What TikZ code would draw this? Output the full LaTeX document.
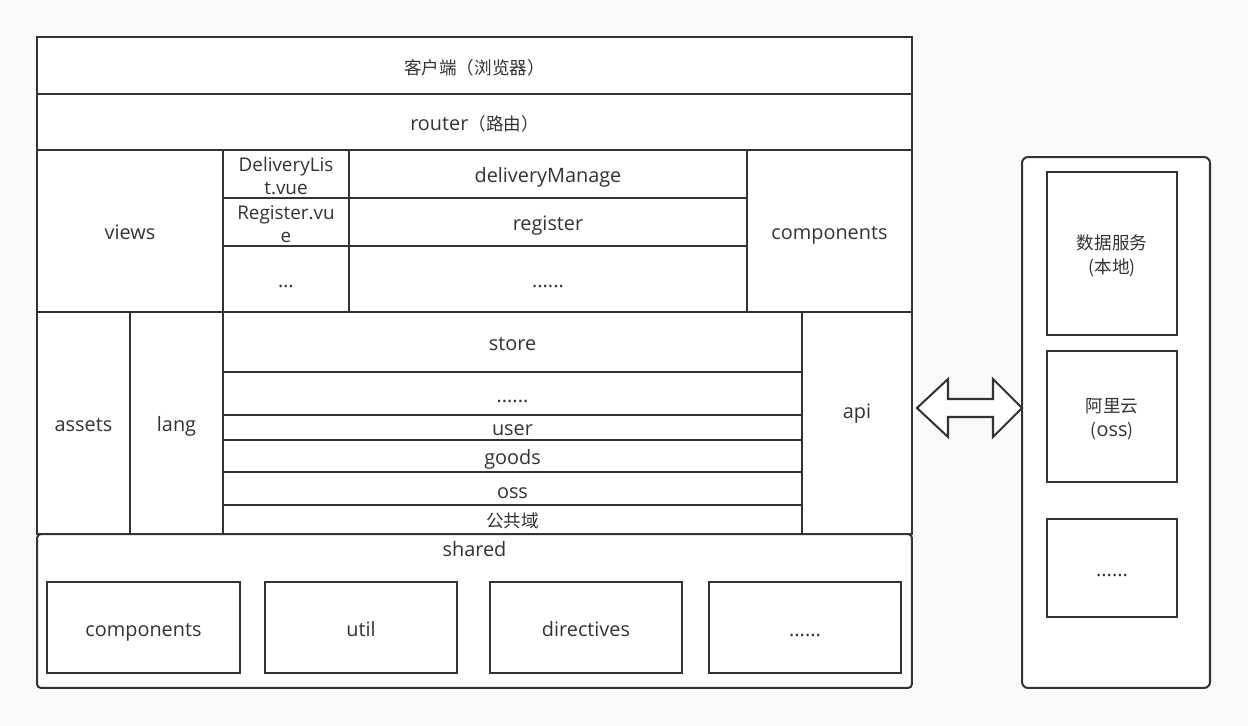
\documentclass[tikz,border=0pt]{standalone}
\usepackage{fontspec}
\setmainfont{Open Sans}[Scale=1.13]
\newfontfamily\cjk{Noto Sans CJK SC}
\usepackage{tikz}
\usetikzlibrary{calc}
\definecolor{PageGray}{HTML}{F9F9F9}
\definecolor{LineDark}{HTML}{333333}

\begin{document}
\begin{tikzpicture}[
    x=0.02cm, y=-0.02cm,
    font=\fontsize{10}{13}\selectfont,
    cell/.style={draw=LineDark, fill=white, line width=1.15pt, inner sep=0pt, text=LineDark, align=center, text height=10pt, text depth=0pt},
    box/.style={draw=LineDark, fill=white, line width=1.15pt, inner sep=0pt},
    panel/.style={draw=LineDark, fill=white, line width=1.15pt, rounded corners=#1, inner sep=0pt},
    lbl/.style={text=LineDark, inner sep=0pt, align=center}
]

  % Fundo
  \fill[PageGray] (0,0) rectangle (1248,726);
  \useasboundingbox (0,0) rectangle (1248,726);

  % =========================================================
  % Cliente / router
  % =========================================================
  \node[cell, minimum width=17.5cm, minimum height=1.14cm] (client) at (474.5,65.5) {{\cjk 客户端（浏览器）}};
  \node[cell, minimum width=17.5cm, minimum height=1.12cm] (router) at (474.5,122) {router{\cjk （路由）}};

  % =========================================================
  % views
  % =========================================================
  \node[cell, minimum width=3.72cm, minimum height=3.24cm] (views) at (130,231) {views};
  \node[box, minimum width=2.52cm, minimum height=0.96cm] (dlist) at (286,174) {};
  \node[lbl, font=\fontsize{9.5}{13}\selectfont, yshift=-1.2pt] (dlisttxt) at (dlist) {DeliveryLis\\t.vue};
  \node[box, minimum width=2.52cm, minimum height=0.96cm] (regvue) at (286,222) {};
  \node[lbl, font=\fontsize{9.5}{13}\selectfont, yshift=-1.2pt] (regvuetxt) at (regvue) {Register.vu\\e};
  \node[cell, minimum width=2.52cm, minimum height=1.32cm] (vdots) at (286,279) {\dots};
  \node[cell, minimum width=7.96cm, minimum height=0.96cm] (dmanage) at (548,174) {deliveryManage};
  \node[cell, minimum width=7.96cm, minimum height=0.96cm] (regdir) at (548,222) {register};
  \node[cell, minimum width=7.96cm, minimum height=1.32cm] (vmore) at (548,279) {......};
  \node[cell, minimum width=3.3cm, minimum height=3.24cm] (comps) at (829.5,231) {components};

  % =========================================================
  % assets / lang / store / api
  % =========================================================
  \node[cell, minimum width=1.86cm, minimum height=4.44cm] (assets) at (83.5,423) {assets};
  \node[cell, minimum width=1.86cm, minimum height=4.44cm] (lang) at (176.5,423) {lang};
  \node[cell, minimum width=11.58cm, minimum height=1.2cm] (store) at (512.5,342) {store};
  \node[cell, minimum width=11.58cm, minimum height=0.86cm] (smore) at (512.5,393.5) {......};
  \node[cell, minimum width=11.58cm, minimum height=0.5cm, text height=9pt] (user) at (512.5,427.5) {user};
  \node[cell, minimum width=11.58cm, minimum height=0.64cm] (goods) at (512.5,456) {goods};
  \node[cell, minimum width=11.58cm, minimum height=0.66cm, text height=11.4pt] (oss) at (512.5,488.5) {oss};
  \node[cell, minimum width=11.58cm, minimum height=0.58cm, text height=9pt] (pub) at (512.5,519.5) {{\cjk 公共域}};
  \node[cell, minimum width=2.2cm, minimum height=4.44cm, text height=0pt, text depth=5pt] (api) at (857,423) {api};

  % =========================================================
  % shared
  % =========================================================
  \node[panel=2.2pt, minimum width=17.5cm, minimum height=3.08cm] (shared) at (474.5,611) {};
  \node[lbl, text height=8.8pt, text depth=0pt] (sharedlbl) at (474.5,549) {shared};
  \node[cell, minimum width=3.86cm, minimum height=1.82cm] (scomps) at (143.5,627.5) {components};
  \node[cell, minimum width=3.84cm, minimum height=1.82cm] (sutil) at (361,627.5) {util};
  \node[cell, minimum width=3.84cm, minimum height=1.82cm] (sdir) at (586,627.5) {directives};
  \node[cell, minimum width=3.84cm, minimum height=1.82cm] (smore2) at (805,627.5) {......};

  % =========================================================
  % servicos de dados
  % =========================================================
  \node[panel=3.4pt, minimum width=3.76cm, minimum height=10.62cm] (server) at (1116,422.5) {};
  \node[box, minimum width=2.6cm, minimum height=3.26cm] (local) at (1112,253.5) {};
  \node[lbl, font=\fontsize{10}{13.6}\selectfont, yshift=-1.4pt] (localtxt) at (local) {{\cjk 数据服务}\\{\cjk (本地)}};
  \node[box, minimum width=2.6cm, minimum height=2.62cm] (aliyun) at (1112,416.5) {};
  \node[lbl, font=\fontsize{10}{13.6}\selectfont, yshift=-1.4pt] (aliyuntxt) at (aliyun) {{\cjk 阿里云}\\{\cjk (}oss{\cjk )}};
  \node[cell, minimum width=2.6cm, minimum height=1.96cm] (rmore) at (1112,568) {......};

  % seta dupla
  \coordinate (ltip) at (917,408);
  \coordinate (rtip) at (1022,408);
  \draw[draw=LineDark, fill=white, line width=1.15pt, line join=miter]
    (ltip) -- ++(31,-29) -- ++(0,20) -- ++(45,0) -- ++(0,-20) -- (rtip)
    -- ++(-29,29) -- ++(0,-20) -- ++(-45,0) -- ++(0,20) -- cycle;

\end{tikzpicture}
\end{document}
